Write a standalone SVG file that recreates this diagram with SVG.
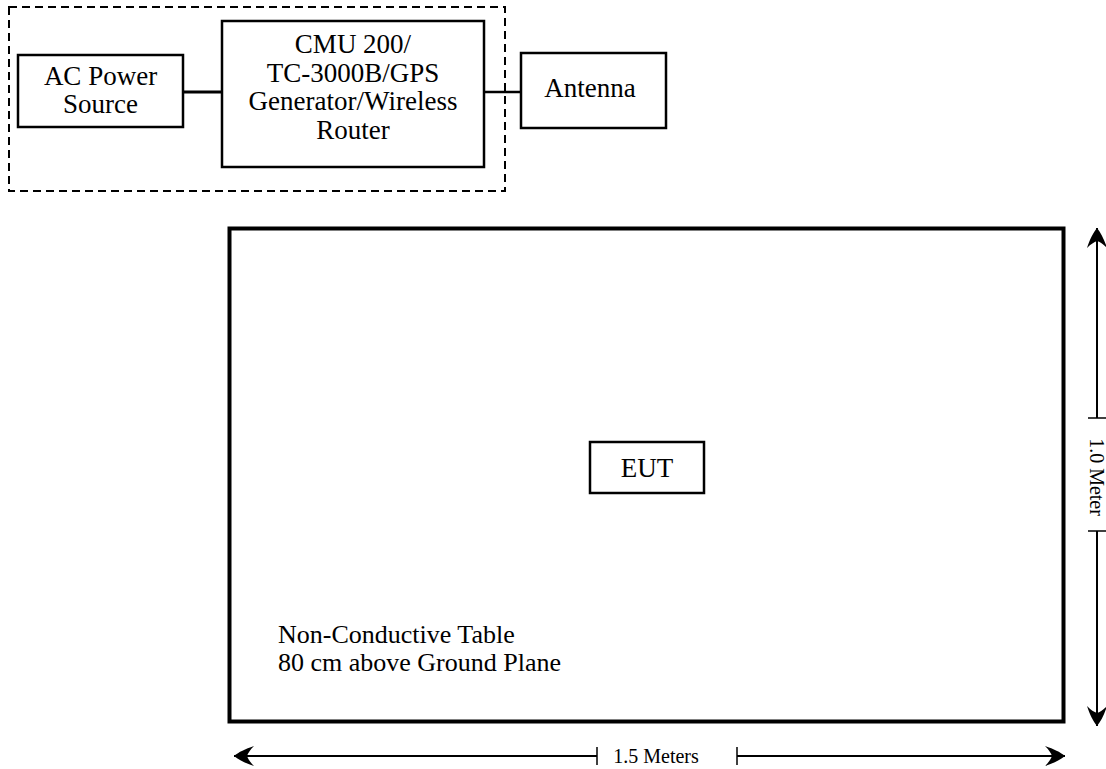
<svg xmlns="http://www.w3.org/2000/svg" width="1106" height="769" viewBox="0 0 1106 769">
<style>
.box{fill:#fff;stroke:#000;stroke-width:2.5}
.lbl{font-family:"Liberation Serif","Times New Roman",serif;font-size:27px;fill:#000;text-anchor:middle}
.dim{font-family:"Liberation Serif","Times New Roman",serif;font-size:20px;fill:#000;text-anchor:middle}
.ln{stroke:#000;fill:none}
</style>
<defs>
<marker id="ah" viewBox="0 0 22 22" refX="21" refY="11" markerWidth="22" markerHeight="22" markerUnits="userSpaceOnUse" orient="auto-start-reverse">
<path d="M21,11 C16,7 10,4 1,1 C5,5 7,8 8,11 C7,14 5,17 1,21 C10,18 16,15 21,11 Z" fill="#000"/>
</marker>
</defs>
<rect x="0" y="0" width="1106" height="769" fill="#fff"/>
<g id="group-boundary">
<rect x="9" y="7" width="496" height="184" fill="none" stroke="#000" stroke-width="2" stroke-dasharray="8,5"/>
</g>
<g id="connectors">
<line class="ln" x1="183" y1="92" x2="222" y2="92" stroke-width="3"/>
<line class="ln" x1="484" y1="92" x2="521" y2="92" stroke-width="2.5"/>
<line class="ln" x1="234" y1="756" x2="597" y2="756" stroke-width="2" marker-start="url(#ah)"/>
<line class="ln" x1="597" y1="747" x2="597" y2="765" stroke-width="1.5"/>
<line class="ln" x1="737" y1="756" x2="1065" y2="756" stroke-width="2" marker-end="url(#ah)"/>
<line class="ln" x1="737" y1="747" x2="737" y2="765" stroke-width="1.5"/>
<line class="ln" x1="1097" y1="228" x2="1097" y2="418" stroke-width="2" marker-start="url(#ah)"/>
<line class="ln" x1="1088" y1="418" x2="1106" y2="418" stroke-width="1.5"/>
<line class="ln" x1="1097" y1="531" x2="1097" y2="726" stroke-width="2" marker-end="url(#ah)"/>
<line class="ln" x1="1088" y1="531" x2="1106" y2="531" stroke-width="1.5"/>
</g>
<g id="ac-power">
<rect class="box" x="18" y="55" width="165" height="72"/>
<text class="lbl" x="100.5" y="85">AC Power</text>
<text class="lbl" x="100.5" y="113">Source</text>
</g>
<g id="cmu">
<rect class="box" x="222" y="21" width="262" height="146"/>
<text class="lbl" x="353" y="53">CMU 200/</text>
<text class="lbl" x="353" y="81.5">TC-3000B/GPS</text>
<text class="lbl" x="353" y="110">Generator/Wireless</text>
<text class="lbl" x="353" y="138.5">Router</text>
</g>
<g id="antenna">
<rect class="box" x="521" y="53" width="145" height="75"/>
<text class="lbl" x="590" y="97">Antenna</text>
</g>
<g id="table">
<rect x="229.5" y="228.5" width="834" height="493" fill="none" stroke="#000" stroke-width="4"/>
<text class="lbl" x="278" y="643" style="text-anchor:start;font-size:26px">Non-Conductive Table</text>
<text class="lbl" x="278" y="671" style="text-anchor:start;font-size:26px">80 cm above Ground Plane</text>
</g>
<g id="eut">
<rect class="box" x="590" y="442" width="114" height="51" stroke-width="2"/>
<text class="lbl" x="647" y="477">EUT</text>
</g>
<g id="dim-labels">
<text class="dim" x="656" y="763">1.5 Meters</text>
<text class="dim" transform="translate(1090,477) rotate(90)" x="0" y="0">1.0 Meter</text>
</g>
</svg>
